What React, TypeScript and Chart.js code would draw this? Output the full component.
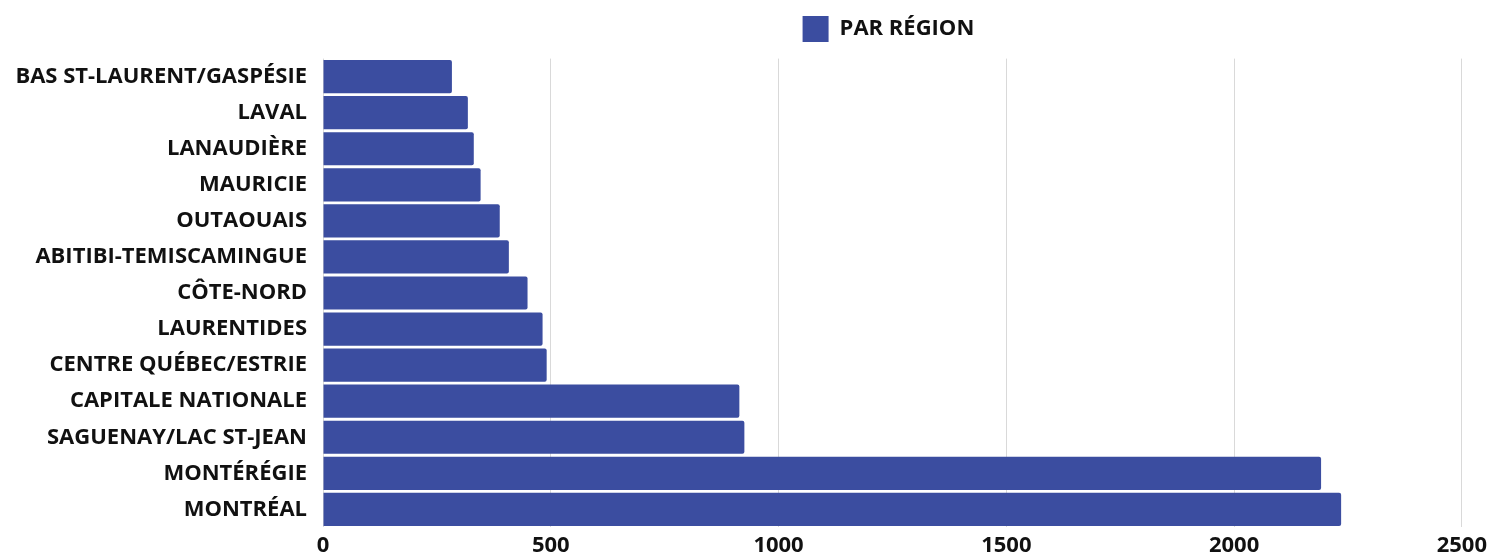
import React, { useEffect, useRef } from "react";
import { Chart, registerables } from "chart.js";

Chart.register(...registerables);

const categories = [
  "BAS ST-LAURENT/GASPÉSIE",
  "LAVAL",
  "LANAUDIÈRE",
  "MAURICIE",
  "OUTAOUAIS",
  "ABITIBI-TEMISCAMINGUE",
  "CÔTE-NORD",
  "LAURENTIDES",
  "CENTRE QUÉBEC/ESTRIE",
  "CAPITALE NATIONALE",
  "SAGUENAY/LAC ST-JEAN",
  "MONTÉRÉGIE",
  "MONTRÉAL",
];

const values = [283, 318, 331, 346, 388, 408, 449, 482, 491, 914, 925, 2191, 2235];

const seriesLabel = "PAR RÉGION";
const xMax = 2500;
const xStep = 500;

const legendOverArea = {
  id: "legendOverArea",
  afterLayout(chart: any) {
    const l = chart.legend;
    const a = chart.chartArea;
    if (l && a) {
      const shiftX = -4;
      const shiftY = -6.6;
      l.left = a.left + shiftX;
      l.right = a.right + shiftX;
      l.top += shiftY;
      l.bottom += shiftY;
    }
  },
};

export default function App() {
  const ref = useRef<HTMLCanvasElement | null>(null);

  useEffect(() => {
    document.body.style.margin = "0";
    const ctx = ref.current;
    if (!ctx) return;
    const font = { family: "'Open Sans', sans-serif", size: 22, weight: "bold" as const };
    const chart = new Chart(ctx, {
      type: "bar",
      data: {
        labels: categories,
        datasets: [
          {
            label: seriesLabel,
            data: values,
            backgroundColor: "#3B4DA0",
            borderColor: "#3B4DA0",
            borderWidth: 0,
            borderRadius: 2,
            borderSkipped: "start",
            barPercentage: 0.92,
            categoryPercentage: 1,
          },
        ],
      },
      plugins: [legendOverArea],
      options: {
        indexAxis: "y",
        animation: false,
        responsive: false,
        maintainAspectRatio: false,
        layout: { padding: { left: 0, right: 26, top: 10.6, bottom: 0 } },
        plugins: {
          legend: {
            display: true,
            position: "top",
            labels: {
              boxWidth: 26,
              boxHeight: 26,
              color: "#111111",
              font,
              padding: 12,
            },
          },
          tooltip: { enabled: false },
        },
        scales: {
          x: {
            min: 0,
            max: xMax,
            ticks: {
              stepSize: xStep,
              color: "#111111",
              font,
              padding: 5,
              callback: (v: any) => String(v),
            },
            grid: { color: "#d9d9d9", drawTicks: false, lineWidth: 1 },
            border: { display: false },
            afterFit: (scale: any) => {
              scale.height = 28.6;
            },
          },
          y: {
            ticks: { color: "#111111", font, padding: 8 },
            grid: { display: false },
            border: { display: false },
            afterFit: (scale: any) => {
              scale.width = 323;
            },
          },
        },
      },
    });
    return () => chart.destroy();
  }, []);

  return (
    <div style={{ width: 1492, height: 556, background: "#ffffff" }}>
      <canvas ref={ref} width={1492} height={556} />
    </div>
  );
}
